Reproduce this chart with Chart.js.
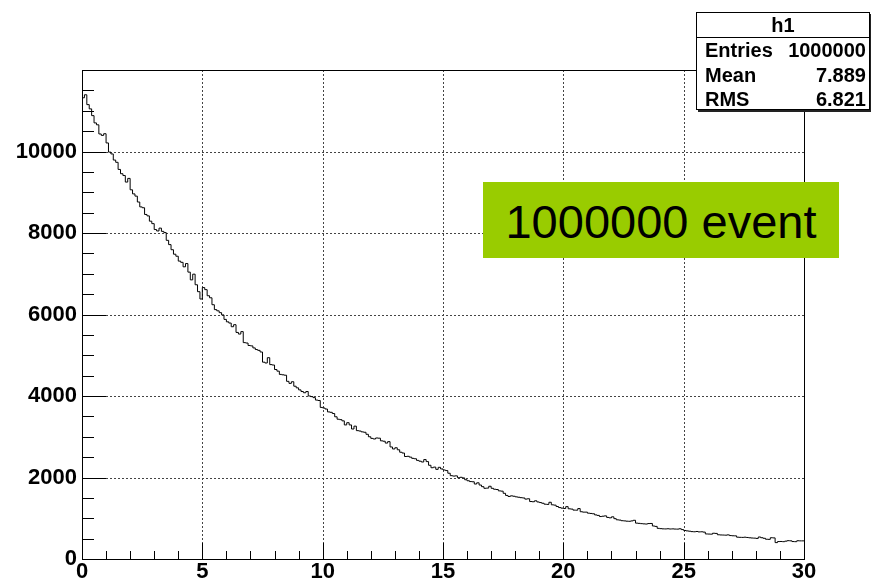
<!DOCTYPE html>
<html>
<head>
<meta charset="utf-8">
<script src="https://cdn.jsdelivr.net/npm/chart.js@4/dist/chart.umd.min.js"></script>
<style>
  html, body { margin: 0; padding: 0; background: #fff; }
  #wrap { position: relative; width: 871px; height: 582px; overflow: hidden; }
  #c { position: absolute; left: 0; top: 0; }
  .stats {
    position: absolute; left: 696px; top: 12px; width: 174px; height: 98px;
    background: #fff; border: 1px solid #000; box-shadow: 2px 2px 0 #222;
    font-family: "Liberation Sans", Arial, sans-serif; font-weight: bold; color: #000;
    box-sizing: border-box;
  }
  .stats .title { height: 24px; border-bottom: 1px solid #000; text-align: center; font-size: 20px; line-height: 25px; }
  .stats .row { position: relative; height: 24.5px; font-size: 20px; line-height: 25px; }
  .stats .row .k { position: absolute; left: 8px; }
  .stats .row .v { position: absolute; right: 3px; }
  .banner {
    position: absolute; left: 483px; top: 182px; width: 356px; height: 76px;
    background: #99cc00; color: #000; text-align: center;
    font-family: "Liberation Sans", Arial, sans-serif; font-size: 47px; line-height: 80px;
  }
</style>
</head>
<body>
<div id="wrap">
  <canvas id="c" width="871" height="582"></canvas>
  <div class="stats" id="stats"></div>
  <div class="banner" id="banner"></div>
</div>
<script>
// Histogram h1: 300 bins of width 0.1 on [0, 30]
const xMin = 0;
const xMax = 30;
const binWidth = 0.1;

// bin contents, ten bins per row (one row per unit of x)
const counts = [
  11452, 11318, 11392, 11150, 11046, 10880, 10702, 10655, 10430, 10395,
  10436, 10210, 9985, 9940, 9790, 9735, 9560, 9455, 9410, 9250,
  9340, 9060, 8960, 8905, 8760, 8640, 8620, 8455, 8420, 8290,
  8230, 8085, 8050, 8120, 8040, 8010, 7820, 7715, 7590, 7480,
  7430, 7310, 7280, 7170, 7250, 7040, 6850, 6990, 6730, 6560,
  6380, 6660, 6610, 6460, 6410, 6240, 6120, 6090, 6045, 5990,
  5880, 5820, 5790, 5700, 5750, 5560, 5520, 5580, 5310, 5300,
  5240, 5230, 5180, 5140, 5120, 5080, 4830, 4810, 4940, 4770,
  4760, 4650, 4610, 4530, 4520, 4510, 4360, 4310, 4350, 4240,
  4200, 4150, 4110, 4080, 4110, 4000, 3985, 3960, 3900, 3890,
  3720, 3705, 3680, 3610, 3600, 3570, 3490, 3430, 3420, 3390,
  3290, 3345, 3290, 3190, 3260, 3150, 3140, 3120, 3110, 3060,
  3000, 2960, 2945, 2970, 2965, 2900, 2890, 2845, 2880, 2750,
  2700, 2730, 2680, 2620, 2600, 2515, 2520, 2500, 2470, 2460,
  2420, 2400, 2380, 2440, 2390, 2300, 2240, 2255, 2200, 2250,
  2210, 2185, 2170, 2105, 2045, 2035, 2040, 1995, 2005, 1990,
  1945, 1920, 1900, 1895, 1840, 1870, 1815, 1775, 1735, 1740,
  1785, 1735, 1712, 1705, 1672, 1665, 1612, 1560, 1535, 1550,
  1540, 1525, 1515, 1505, 1498, 1470, 1478, 1410, 1405, 1428,
  1400, 1385, 1368, 1345, 1340, 1392, 1330, 1322, 1288, 1262,
  1248, 1240, 1285, 1232, 1225, 1200, 1198, 1238, 1160, 1150,
  1150, 1125, 1118, 1110, 1082, 1070, 1042, 1050, 1058, 1020,
  1010, 1035, 990, 962, 955, 940, 935, 928, 925, 935,
  950, 880, 875, 868, 862, 858, 870, 872, 810, 800,
  752, 745, 740, 738, 742, 736, 739, 735, 733, 742,
  722, 700, 690, 682, 672, 668, 675, 665, 668, 660,
  615, 612, 610, 632, 628, 595, 590, 588, 585, 592,
  575, 570, 568, 535, 532, 530, 535, 528, 520, 515,
  512, 505, 540, 522, 508, 485, 482, 522, 518, 402,
  428, 430, 425, 438, 450, 446, 428, 425, 448, 445
];

// axis ranges and divisions
const yMin = 0;
const yMax = 12000;
const xMajorStep = 5;
const xMinorStep = 1;
const yMajorStep = 2000;
const yMinorStep = 500;

// statistics box and caption
const statsTitle = 'h1';
const statsNames = ['Entries', 'Mean', 'RMS'];
const statsValues = ['1000000', '7.889', '6.821'];
const bannerText = '1000000 event';

// outline points: left edge of every bin, plus the right edge of the last bin
const outline = counts.map((c, i) => ({ x: xMin + i * binWidth, y: c }));
outline.push({ x: xMax, y: counts[counts.length - 1] });

const LABEL_FONT = { family: '"Liberation Sans", Arial, sans-serif', size: 22, weight: 'bold' };

// dotted grid, frame and inward tick marks in the style of a ROOT canvas
const rootFrame = {
  id: 'rootFrame',
  beforeDatasetsDraw(chart) {
    const { ctx, chartArea: a, scales: { x, y } } = chart;
    ctx.save();
    ctx.strokeStyle = '#444';
    ctx.lineWidth = 1;
    ctx.setLineDash([2, 2]);
    ctx.beginPath();
    for (let v = xMin + xMajorStep; v < xMax; v += xMajorStep) {
      const px = Math.round(x.getPixelForValue(v)) + 0.5;
      ctx.moveTo(px, a.top); ctx.lineTo(px, a.bottom);
    }
    for (let v = yMin + yMajorStep; v < yMax; v += yMajorStep) {
      const py = Math.round(y.getPixelForValue(v)) + 0.5;
      ctx.moveTo(a.left, py); ctx.lineTo(a.right, py);
    }
    ctx.stroke();
    ctx.restore();
  },
  afterDatasetsDraw(chart) {
    const { ctx, chartArea: a, scales: { x, y } } = chart;
    ctx.save();
    ctx.strokeStyle = '#000';
    ctx.lineWidth = 1;
    ctx.setLineDash([]);
    ctx.beginPath();
    // x ticks point up from the bottom axis
    for (let v = xMin + xMinorStep; v < xMax; v += xMinorStep) {
      const px = Math.round(x.getPixelForValue(v)) + 0.5;
      const len = (v % xMajorStep === 0) ? 16 : 8;
      ctx.moveTo(px, a.bottom); ctx.lineTo(px, a.bottom - len);
    }
    // y ticks point right from the left axis
    for (let v = yMin + yMinorStep; v < yMax; v += yMinorStep) {
      const py = Math.round(y.getPixelForValue(v)) + 0.5;
      const len = (v % yMajorStep === 0) ? 24 : 12;
      ctx.moveTo(a.left, py); ctx.lineTo(a.left + len, py);
    }
    ctx.stroke();
    // frame
    ctx.strokeRect(Math.round(a.left) + 0.5, Math.round(a.top) + 0.5,
                   Math.round(a.right - a.left), Math.round(a.bottom - a.top));
    ctx.restore();
  }
};

new Chart(document.getElementById('c'), {
  type: 'line',
  data: {
    datasets: [{
      label: statsTitle,
      data: outline,
      stepped: 'after',
      borderColor: '#000',
      borderWidth: 1,
      pointRadius: 0,
      fill: false
    }]
  },
  options: {
    responsive: false,
    animation: false,
    devicePixelRatio: 1,
    layout: { padding: { left: 0, top: 70, right: 67, bottom: 0 } },
    plugins: { legend: { display: false }, tooltip: { enabled: false } },
    scales: {
      x: {
        type: 'linear',
        min: xMin,
        max: xMax,
        grid: { display: false, drawTicks: false },
        border: { display: false },
        ticks: {
          stepSize: xMajorStep,
          autoSkip: false,
          maxRotation: 0,
          padding: 0,
          color: '#000',
          font: LABEL_FONT
        },
        afterFit(scale) { scale.height = 23; }
      },
      y: {
        type: 'linear',
        min: yMin,
        max: yMax,
        grid: { display: false, drawTicks: false },
        border: { display: false },
        ticks: {
          stepSize: yMajorStep,
          autoSkip: false,
          padding: 5,
          color: '#000',
          font: LABEL_FONT,
          callback: (v) => (v >= yMax ? '' : String(v))
        },
        afterFit(scale) { scale.width = 82; }
      }
    }
  },
  plugins: [rootFrame]
});

// statistics box
const stats = document.getElementById('stats');
const t = document.createElement('div');
t.className = 'title';
t.textContent = statsTitle;
stats.appendChild(t);
statsNames.forEach((name, i) => {
  const row = document.createElement('div');
  row.className = 'row';
  const k = document.createElement('span'); k.className = 'k'; k.textContent = name;
  const v = document.createElement('span'); v.className = 'v'; v.textContent = statsValues[i];
  row.appendChild(k); row.appendChild(v);
  stats.appendChild(row);
});
document.getElementById('banner').textContent = bannerText;
</script>
</body>
</html>
